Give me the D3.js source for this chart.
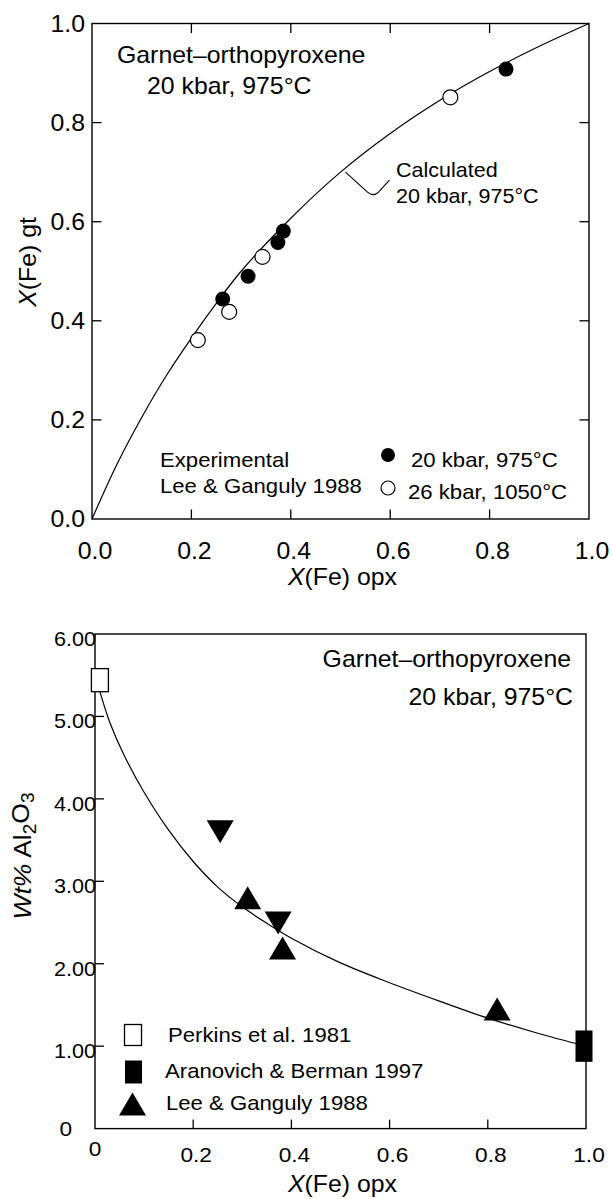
<!DOCTYPE html>
<html><head><meta charset="utf-8">
<script src="https://cdn.jsdelivr.net/npm/d3@7"></script>
<style>
body{margin:0;background:#fff}
svg{display:block}
text{font-family:"Liberation Sans",Arial,Helvetica,sans-serif;fill:#000}
</style>
</head><body>
<svg id="c" width="613" height="1199"></svg>
<script>
// ---------- DATA: top panel (garnet / orthopyroxene Fe partitioning) ----------
const topCurveX = [0, 0.05, 0.10, 0.15, 0.20, 0.25, 0.30, 0.40, 0.50, 0.60, 0.70, 0.80, 0.90, 1.00];
const topCurveY = [0, 0.110, 0.205, 0.290, 0.365, 0.435, 0.500, 0.607, 0.700, 0.778, 0.845, 0.903, 0.954, 1.00];
const filledX = [0.263, 0.314, 0.374, 0.385, 0.833];   // 20 kbar, 975°C
const filledY = [0.444, 0.490, 0.558, 0.581, 0.908];
const openX   = [0.213, 0.276, 0.343, 0.721];          // 26 kbar, 1050°C
const openY   = [0.361, 0.418, 0.529, 0.851];
const topTickValues = [0, 0.2, 0.4, 0.6, 0.8, 1.0];
const topTickLabels = ["0.0", "0.2", "0.4", "0.6", "0.8", "1.0"];
const topLegendLabels = ["20 kbar, 975°C", "26 kbar, 1050°C"];

// ---------- DATA: bottom panel (Wt% Al2O3 in opx) ----------
const botCurveX = [0.01, 0.03, 0.06, 0.10, 0.15, 0.20, 0.25, 0.30, 0.35, 0.40, 0.50, 0.60, 0.70, 0.80, 0.90, 1.00];
const botCurveY = [5.30, 4.93, 4.52, 4.08, 3.62, 3.24, 2.93, 2.69, 2.49, 2.31, 2.01, 1.77, 1.55, 1.34, 1.16, 1.00];
const perkins   = {x: 0.01, y: 5.44, lo: 5.30, hi: 5.58};   // open square
const aranovich = {x: 1.00, y: 1.00, lo: 0.81, hi: 1.19};   // filled square
const leeUpX   = [0.311, 0.382, 0.819];
const leeUpY   = [2.80, 2.19, 1.45];
const leeDownX = [0.255, 0.373];
const leeDownY = [3.60, 2.495];
const botXTickValues = [0, 0.2, 0.4, 0.6, 0.8, 1.0];
const botXTickLabels = ["0", "0.2", "0.4", "0.6", "0.8", "1.0"];
const botYTickValues = [0, 1, 2, 3, 4, 5, 6];
const botYTickLabels = ["0", "1.00", "2.00", "3.00", "4.00", "5.00", "6.00"];
const botLegendLabels = ["Perkins et al. 1981", "Aranovich & Berman 1997", "Lee & Ganguly 1988"];

// ---------- helpers ----------
const svg = d3.select("#c");
const SX = 1.08;
function txt(g, x, y, parts, o = {}) {
  const t = g.append("text")
    .attr("transform", `translate(${x},${y})` + (o.rot ? ` rotate(${o.rot})` : "") + ` scale(${o.sx || SX},1)`)
    .attr("font-size", o.size || 20)
    .attr("text-anchor", o.anchor || "start");
  (typeof parts === "string" ? [{t: parts}] : parts).forEach(p => {
    const s = t.append("tspan").text(p.t);
    if (p.italic) s.attr("font-style", "italic");
    if (p.sub) s.attr("font-size", "72%").attr("dy", "0.3em");
    if (p.unsub) s.attr("dy", "-0.3em");
  });
  return t;
}

// ================= TOP PANEL =================
const tx = d3.scaleLinear().domain([0, 1]).range([92, 589]);
const ty = d3.scaleLinear().domain([0, 1]).range([519, 23.5]);
const gT = svg.append("g");
const TL = 9.5;

gT.append("rect").attr("x", tx(0)).attr("y", ty(1)).attr("width", tx(1) - tx(0)).attr("height", ty(0) - ty(1))
  .attr("fill", "none").attr("stroke", "#000").attr("stroke-width", 1.4);

const inner = topTickValues.slice(1, -1);
inner.forEach(v => {
  gT.append("line").attr("x1", tx(v)).attr("x2", tx(v)).attr("y1", ty(0)).attr("y2", ty(0) - TL).attr("stroke", "#000").attr("stroke-width", 1.3);
  gT.append("line").attr("x1", tx(v)).attr("x2", tx(v)).attr("y1", ty(1)).attr("y2", ty(1) + TL).attr("stroke", "#000").attr("stroke-width", 1.3);
  gT.append("line").attr("y1", ty(v)).attr("y2", ty(v)).attr("x1", tx(0)).attr("x2", tx(0) + TL).attr("stroke", "#000").attr("stroke-width", 1.3);
  gT.append("line").attr("y1", ty(v)).attr("y2", ty(v)).attr("x1", tx(1)).attr("x2", tx(1) - TL).attr("stroke", "#000").attr("stroke-width", 1.3);
});
topTickValues.forEach((v, i) => {
  txt(gT, tx(v) + 3, 559, topTickLabels[i], {size: 23, anchor: "middle"});
  txt(gT, tx(0) - 7, ty(v) + 8, topTickLabels[i], {size: 23, anchor: "end"});
});
txt(gT, tx(0.5) + 2, 585, [{t: "X", italic: true}, {t: "(Fe) opx"}], {size: 23, anchor: "middle"});
txt(gT, 36, 262, [{t: "X", italic: true}, {t: "(Fe) gt"}], {size: 23, anchor: "middle", rot: -90});

const topLine = d3.line().x((d, i) => tx(topCurveX[i])).y((d, i) => ty(topCurveY[i])).curve(d3.curveCatmullRom.alpha(0.5));
gT.append("path").attr("d", topLine(topCurveX)).attr("fill", "none").attr("stroke", "#000").attr("stroke-width", 1.2);

gT.selectAll("circle.f").data(filledX).join("circle").attr("class", "f")
  .attr("cx", (d, i) => tx(filledX[i])).attr("cy", (d, i) => ty(filledY[i])).attr("r", 7.5).attr("fill", "#000");
gT.selectAll("circle.o").data(openX).join("circle").attr("class", "o")
  .attr("cx", (d, i) => tx(openX[i])).attr("cy", (d, i) => ty(openY[i])).attr("r", 7.5).attr("fill", "#fff").attr("stroke", "#000").attr("stroke-width", 1.2);

// titles / annotations
txt(gT, 117, 63, "Garnet–orthopyroxene", {size: 23});
txt(gT, 147, 94, "20 kbar, 975°C", {size: 23});
// leader from curve to "Calculated"
const lx = tx(0.51), ly = ty(0.70);
gT.append("path").attr("d", `M${lx},${ly} L${lx + 22},${ly + 20} Q${lx + 28},${ly + 25} ${lx + 33},${ly + 20} L${lx + 44},${ly + 8}`)
  .attr("fill", "none").attr("stroke", "#000").attr("stroke-width", 1.1);
txt(gT, 396, 177, "Calculated", {size: 20.5, sx: 1.05});
txt(gT, 396, 203, "20 kbar, 975°C", {size: 20.5, sx: 1.05});

// legend
txt(gT, 160, 467, "Experimental", {size: 20.5});
txt(gT, 160, 493, "Lee & Ganguly 1988", {size: 20.5});
gT.append("circle").attr("cx", 388).attr("cy", 455).attr("r", 7).attr("fill", "#000");
gT.append("circle").attr("cx", 388).attr("cy", 488).attr("r", 7).attr("fill", "#fff").attr("stroke", "#000").attr("stroke-width", 1.2);
txt(gT, 411, 467, topLegendLabels[0], {size: 20.5});
txt(gT, 408, 499, topLegendLabels[1], {size: 20.5});

// ================= BOTTOM PANEL =================
const bx = d3.scaleLinear().domain([0, 1]).range([95, 586]);
const by = d3.scaleLinear().domain([0, 6]).range([1128.6, 634]);
const gB = svg.append("g");

gB.append("rect").attr("x", bx(0)).attr("y", by(6)).attr("width", bx(1) - bx(0)).attr("height", by(0) - by(6))
  .attr("fill", "none").attr("stroke", "#000").attr("stroke-width", 1.4);
botXTickValues.slice(1, -1).forEach(v => {
  gB.append("line").attr("x1", bx(v)).attr("x2", bx(v)).attr("y1", by(0)).attr("y2", by(0) - 9).attr("stroke", "#000").attr("stroke-width", 1.3);
});
botYTickValues.slice(1, -1).forEach(v => {
  gB.append("line").attr("y1", by(v)).attr("y2", by(v)).attr("x1", bx(0)).attr("x2", bx(0) + 9).attr("stroke", "#000").attr("stroke-width", 1.3);
});
botXTickValues.forEach((v, i) => {
  txt(gB, bx(v) + (i === 0 ? 0 : 3), i === 0 ? 1156 : 1162, botXTickLabels[i], {size: 21, anchor: "middle"});
});
botYTickValues.forEach((v, i) => {
  if (i === 0) txt(gB, 72, by(v) + 7, botYTickLabels[i], {size: 21, anchor: "end"});
  else txt(gB, bx(0) + 1, by(v) + 12, botYTickLabels[i], {size: 20, anchor: "end"});
});
txt(gB, bx(0.5) + 2, 1192, [{t: "X", italic: true}, {t: "(Fe) opx"}], {size: 23, anchor: "middle"});
txt(gB, 31, 856, [{t: "Wt%", italic: true}, {t: " Al"}, {t: "2", sub: true}, {t: "O", unsub: true}, {t: "3", sub: true}], {size: 24.5, anchor: "middle", rot: -90});

const botLine = d3.line().x((d, i) => bx(botCurveX[i])).y((d, i) => by(botCurveY[i])).curve(d3.curveCatmullRom.alpha(0.5));
gB.append("path").attr("d", botLine(botCurveX)).attr("fill", "none").attr("stroke", "#000").attr("stroke-width", 1.2);

// squares
const SQW = 17;
gB.append("rect").attr("x", bx(perkins.x) - SQW / 2).attr("y", by(perkins.hi)).attr("width", SQW).attr("height", by(perkins.lo) - by(perkins.hi))
  .attr("fill", "#fff").attr("stroke", "#000").attr("stroke-width", 1.3);
gB.append("rect").attr("x", bx(aranovich.x) - SQW / 2 - 2).attr("y", by(aranovich.hi)).attr("width", SQW).attr("height", by(aranovich.lo) - by(aranovich.hi))
  .attr("fill", "#000");

// triangles
const TW = 27, TH = 23;
const triUp = (cx, cy) => `M${cx - TW / 2},${cy + TH / 2} L${cx + TW / 2},${cy + TH / 2} L${cx},${cy - TH / 2} Z`;
const triDown = (cx, cy) => `M${cx - TW / 2},${cy - TH / 2} L${cx + TW / 2},${cy - TH / 2} L${cx},${cy + TH / 2} Z`;
gB.selectAll("path.up").data(leeUpX).join("path").attr("class", "up")
  .attr("d", (d, i) => triUp(bx(leeUpX[i]), by(leeUpY[i]))).attr("fill", "#000");
gB.selectAll("path.dn").data(leeDownX).join("path").attr("class", "dn")
  .attr("d", (d, i) => triDown(bx(leeDownX[i]), by(leeDownY[i]))).attr("fill", "#000");

// title
txt(gB, 571, 667, "Garnet–orthopyroxene", {size: 23, anchor: "end"});
txt(gB, 573, 705, "20 kbar, 975°C", {size: 23, anchor: "end"});

// legend
gB.append("rect").attr("x", 133 - 8.5).attr("y", 1035 - 10.5).attr("width", 17).attr("height", 21).attr("fill", "#fff").attr("stroke", "#000").attr("stroke-width", 1.3);
gB.append("rect").attr("x", 133.5 - 8.5).attr("y", 1072 - 11.5).attr("width", 17).attr("height", 23).attr("fill", "#000");
gB.append("path").attr("d", triUp(132.5, 1104)).attr("fill", "#000");
txt(gB, 168, 1042, botLegendLabels[0], {size: 20.5});
txt(gB, 165, 1078, botLegendLabels[1], {size: 20.5});
txt(gB, 166, 1110, botLegendLabels[2], {size: 20.5});
</script>
</body></html>
